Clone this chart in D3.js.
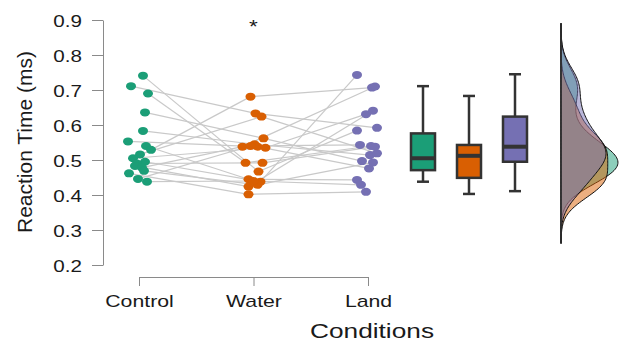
<!DOCTYPE html>
<html>
<head>
<meta charset="utf-8">
<script src="https://cdn.jsdelivr.net/npm/d3@7"></script>
<style>
  body { margin: 0; background: #fff; }
  svg { display: block; }
  text { font-family: "Liberation Sans", Arial, sans-serif; fill: #1a1a1a; }
</style>
</head>
<body>
<div id="chart"></div>
<script>
// conditions and the per-participant reaction times (same order = same participant)
var conditions = ["Control", "Water", "Land"];
var controlRT = [0.741, 0.711, 0.690, 0.636, 0.583, 0.553, 0.540, 0.529, 0.516, 0.505, 0.495, 0.490, 0.483, 0.478, 0.469, 0.462, 0.446, 0.438];
var waterRT   = [0.467, 0.633, 0.492, 0.562, 0.545, 0.538, 0.445, 0.681, 0.624, 0.535, 0.438, 0.492, 0.424, 0.538, 0.429, 0.402, 0.540, 0.440];
var landRT    = [0.584, 0.592, 0.540, 0.497, 0.514, 0.476, 0.443, 0.707, 0.519, 0.631, 0.743, 0.538, 0.641, 0.710, 0.493, 0.409, 0.543, 0.429];
// horizontal jitter of each dot (px)
var controlJitter = [4, -8, 9, 6, 4, -11, 7, 12, 1, -6, 6, -2, -4, 3, 5, -10, -1, 8];
var waterJitter   = [5, 2, -8, 10, 1, 4, -5, -3, 8, 12, 7, 9, -5, -11, 4, -5, -3, 0];
var landJitter    = [-11, 9, 3, -6, 2, 1, -11, 4, 9, -2, -11, 7, 5, 7, 5, -2, -8, -7];

// boxplot stats per condition
var boxLow    = [0.438, 0.403, 0.411];
var boxQ1     = [0.471, 0.449, 0.495];
var boxMedian = [0.505, 0.512, 0.538];
var boxQ3     = [0.576, 0.543, 0.624];
var boxHigh   = [0.711, 0.683, 0.745];

var yTicks = [0.2, 0.3, 0.4, 0.5, 0.6, 0.7, 0.8, 0.9];
var colors = ["#1b9e77", "#d95f02", "#7570b3"];

var width = 619, height = 342;
var stretch = 1.25; // the reference is drawn a bit wide

var svg = d3.select("#chart").append("svg")
    .attr("width", width)
    .attr("height", height);

var y = d3.scaleLinear().domain([0.2, 0.9]).range([265, 20]);
var x = d3.scalePoint().domain(conditions).range([139, 368]);
var xBox = d3.scalePoint().domain(conditions).range([423, 515]);

var series = [controlRT, waterRT, landRT];
var jitters = [controlJitter, waterJitter, landJitter];

// y axis
var yAxis = svg.append("g")
    .attr("transform", "translate(103,0)")
    .call(d3.axisLeft(y).tickValues(yTicks).tickSize(11).tickSizeOuter(0).tickFormat(d3.format(".1f")));
yAxis.select(".domain").attr("stroke", "#8a8a8a");
yAxis.selectAll(".tick line").attr("stroke", "#8a8a8a");
yAxis.selectAll(".tick text")
    .attr("x", -21 / stretch)
    .attr("dy", "0.42em")
    .attr("transform", "scale(" + stretch + ",1)")
    .style("font-size", "16.5px")
    .style("font-family", "'Liberation Sans', Arial, sans-serif")
    .attr("fill", "#1a1a1a");

// x axis
var xAxis = svg.append("g")
    .attr("transform", "translate(0,277)")
    .call(d3.axisBottom(x).tickSize(9).tickSizeOuter(0));
xAxis.select(".domain").attr("stroke", "#8a8a8a");
xAxis.selectAll(".tick line").attr("stroke", "#8a8a8a");
xAxis.selectAll(".tick text")
    .attr("y", 30)
    .attr("dy", 0)
    .attr("transform", "scale(" + stretch + ",1)")
    .style("font-size", "17px")
    .style("font-family", "'Liberation Sans', Arial, sans-serif")
    .attr("fill", "#1a1a1a");

// axis titles
svg.append("text")
    .attr("transform", "translate(25,142) rotate(-90)")
    .attr("text-anchor", "middle")
    .attr("dy", "0.35em")
    .style("font-size", "21px")
    .text("Reaction Time (ms)");

svg.append("text")
    .attr("transform", "translate(372,338) scale(" + stretch + ",1)")
    .attr("text-anchor", "middle")
    .style("font-size", "21px")
    .text("Conditions");

// significance star
svg.append("text")
    .attr("transform", "translate(" + x("Water") + ",33) scale(" + stretch + ",1)")
    .attr("text-anchor", "middle")
    .style("font-size", "18px")
    .text("*");

// paired lines
var lines = svg.append("g");
for (var k = 0; k < 2; k++) {
    lines.selectAll(null)
        .data(d3.range(controlRT.length))
        .enter().append("line")
        .attr("x1", function (i) { return x(conditions[k]) + jitters[k][i]; })
        .attr("y1", function (i) { return y(series[k][i]); })
        .attr("x2", function (i) { return x(conditions[k + 1]) + jitters[k + 1][i]; })
        .attr("y2", function (i) { return y(series[k + 1][i]); })
        .attr("stroke", "#c9c9c9")
        .attr("stroke-width", 1.2);
}

// dots
series.forEach(function (vals, k) {
    svg.append("g").selectAll("ellipse")
        .data(vals)
        .enter().append("ellipse")
        .attr("cx", function (d, i) { return x(conditions[k]) + jitters[k][i]; })
        .attr("cy", function (d) { return y(d); })
        .attr("rx", 5)
        .attr("ry", 4)
        .attr("fill", colors[k]);
});

// boxplots
var boxW = 24, capW = 12;
var boxes = svg.append("g").selectAll("g")
    .data(conditions)
    .enter().append("g");
boxes.append("line")
    .attr("x1", function (d) { return xBox(d); })
    .attr("x2", function (d) { return xBox(d); })
    .attr("y1", function (d, i) { return y(boxHigh[i]); })
    .attr("y2", function (d, i) { return y(boxLow[i]); })
    .attr("stroke", "#333").attr("stroke-width", 2.5);
boxes.append("line")
    .attr("x1", function (d) { return xBox(d) - capW / 2; })
    .attr("x2", function (d) { return xBox(d) + capW / 2; })
    .attr("y1", function (d, i) { return y(boxHigh[i]); })
    .attr("y2", function (d, i) { return y(boxHigh[i]); })
    .attr("stroke", "#333").attr("stroke-width", 2.5);
boxes.append("line")
    .attr("x1", function (d) { return xBox(d) - capW / 2; })
    .attr("x2", function (d) { return xBox(d) + capW / 2; })
    .attr("y1", function (d, i) { return y(boxLow[i]); })
    .attr("y2", function (d, i) { return y(boxLow[i]); })
    .attr("stroke", "#333").attr("stroke-width", 2.5);
boxes.append("rect")
    .attr("x", function (d) { return xBox(d) - boxW / 2; })
    .attr("width", boxW)
    .attr("y", function (d, i) { return y(boxQ3[i]); })
    .attr("height", function (d, i) { return y(boxQ1[i]) - y(boxQ3[i]); })
    .attr("fill", function (d, i) { return colors[i]; })
    .attr("stroke", "#333").attr("stroke-width", 2.5);
boxes.append("line")
    .attr("x1", function (d) { return xBox(d) - boxW / 2; })
    .attr("x2", function (d) { return xBox(d) + boxW / 2; })
    .attr("y1", function (d, i) { return y(boxMedian[i]); })
    .attr("y2", function (d, i) { return y(boxMedian[i]); })
    .attr("stroke", "#333").attr("stroke-width", 4);

// half violins (gaussian kde)
function kde(bw, grid, data) {
    return grid.map(function (t) {
        var s = d3.sum(data, function (v) {
            var u = (t - v) / bw;
            return Math.exp(-0.5 * u * u);
        });
        return [t, s / (data.length * bw * Math.sqrt(2 * Math.PI))];
    });
}
var grid = d3.range(0.262, 0.8915, 0.004);
var densities = series.map(function (vals) { return kde(0.045, grid, vals); });
var maxD = d3.max(densities, function (dd) { return d3.max(dd, function (p) { return p[1]; }); });
var dx = d3.scaleLinear().domain([0, maxD]).range([561, 618]);

var area = d3.area()
    .y(function (p) { return y(p[0]); })
    .x0(dx(0))
    .x1(function (p) { return dx(p[1]); })
    .curve(d3.curveBasis);

// green at the bottom, purple on top
var drawOrder = [0, 1, 2];
svg.append("g").selectAll("path")
    .data(drawOrder)
    .enter().append("path")
    .attr("d", function (k) { return area(densities[k]); })
    .attr("fill", function (k) { return colors[k]; })
    .attr("fill-opacity", 0.5)
    .attr("stroke", "#111")
    .attr("stroke-width", 1);

svg.append("line")
    .attr("x1", dx(0)).attr("x2", dx(0))
    .attr("y1", y(grid[grid.length - 1]))
    .attr("y2", y(grid[0]))
    .attr("stroke", "#333").attr("stroke-width", 1.5);
</script>
</body>
</html>
